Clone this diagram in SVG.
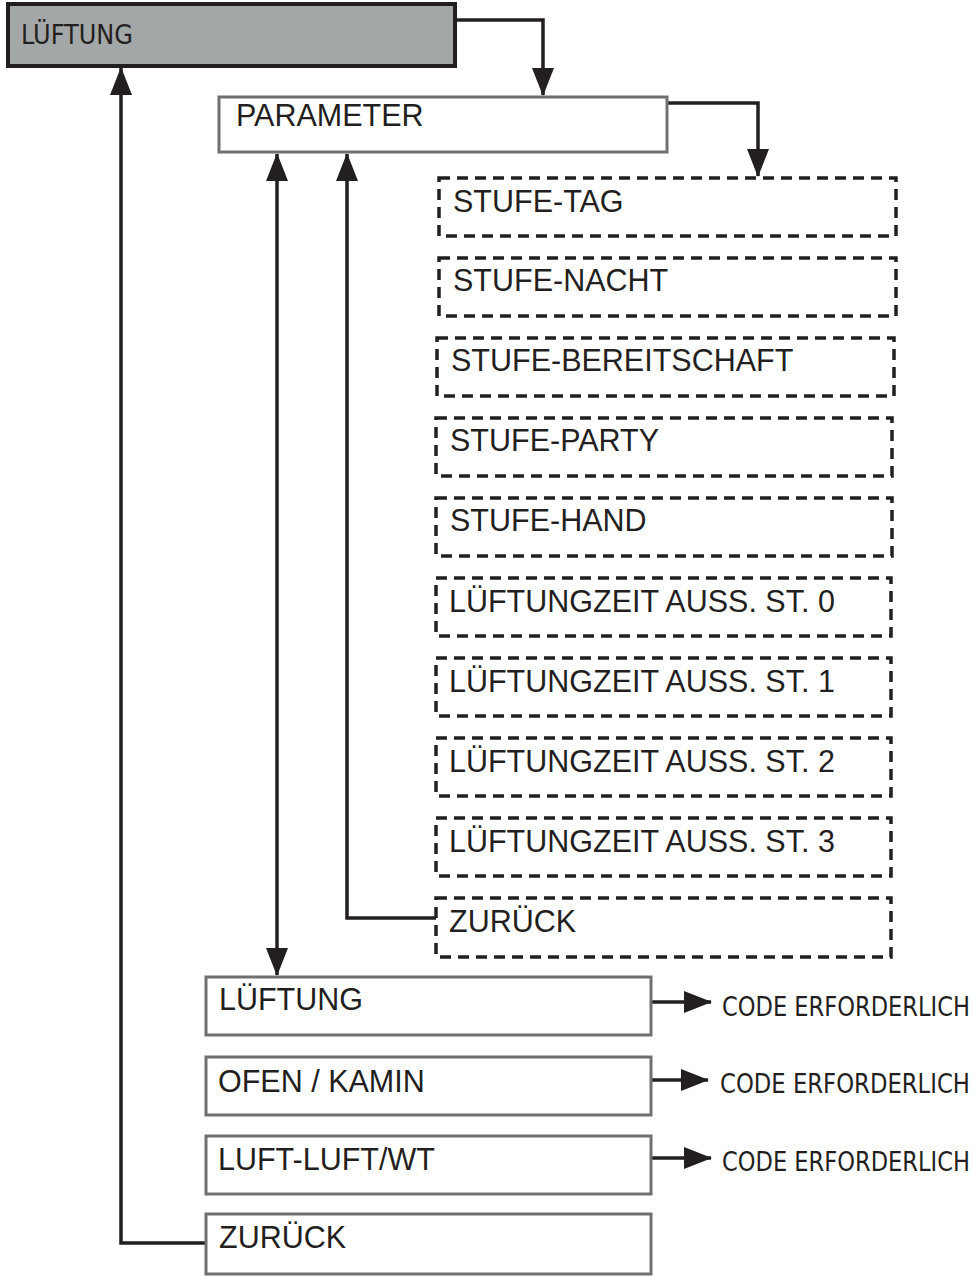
<svg xmlns="http://www.w3.org/2000/svg" width="978" height="1277" viewBox="0 0 978 1277">
<defs>
<style>
.txt{font-family:"Liberation Sans",Arial,sans-serif;font-size:30.5px;fill:#231f20}
.cond{font-family:"DejaVu Sans Condensed","DejaVu Sans",sans-serif;font-size:26px;fill:#231f20}
.solid{fill:#fff;stroke:#707070;stroke-width:3}
.dash{fill:#fff;stroke:#231f20;stroke-width:3.5;stroke-dasharray:11 7}
.con{fill:none;stroke:#231f20;stroke-width:3.5}
</style>
<marker id="ah" markerUnits="userSpaceOnUse" markerWidth="28" markerHeight="22" viewBox="0 0 28 22" refX="27" refY="11" orient="auto-start-reverse">
<path d="M0,0 L28,11 L0,22 z" fill="#231f20"/>
</marker>
</defs>
<rect width="978" height="1277" fill="#fff"/>

<g id="connectors">
<path class="con" d="M455,20 H543 V95" marker-end="url(#ah)"/>
<path class="con" d="M668,103 H758 V176" marker-end="url(#ah)"/>
<path class="con" d="M277,154 V975" marker-start="url(#ah)" marker-end="url(#ah)"/>
<path class="con" d="M436,918 H347 V154" marker-end="url(#ah)"/>
<path class="con" d="M206,1243 H121 V68" marker-end="url(#ah)"/>
<path class="con" d="M652,1002 H711" marker-end="url(#ah)"/>
<path class="con" d="M652,1080 H708" marker-end="url(#ah)"/>
<path class="con" d="M652,1158 H711" marker-end="url(#ah)"/>
</g>

<g id="node-lueftung-top">
<rect x="8" y="4" width="447" height="62" fill="#a4a7a7" stroke="#231f20" stroke-width="4"/>
<text class="cond" x="21" y="44" font-size="27" textLength="112" lengthAdjust="spacingAndGlyphs">LÜFTUNG</text>
</g>
<g id="node-parameter">
<rect class="solid" x="219" y="97" width="448" height="55"/>
<text class="txt" x="236" y="126">PARAMETER</text>
</g>

<g id="node-stufe-tag"><rect class="dash" x="439" y="178" width="457" height="58"/><text class="txt" x="453" y="212">STUFE-TAG</text></g>
<g id="node-stufe-nacht"><rect class="dash" x="439" y="258" width="457" height="58"/><text class="txt" x="453" y="291">STUFE-NACHT</text></g>
<g id="node-stufe-bereitschaft"><rect class="dash" x="437" y="338" width="457" height="58"/><text class="txt" x="451" y="371">STUFE-BEREITSCHAFT</text></g>
<g id="node-stufe-party"><rect class="dash" x="436" y="418" width="456" height="58"/><text class="txt" x="450" y="451">STUFE-PARTY</text></g>
<g id="node-stufe-hand"><rect class="dash" x="436" y="498" width="456" height="58"/><text class="txt" x="450" y="531">STUFE-HAND</text></g>
<g id="node-lzeit-0"><rect class="dash" x="436" y="578" width="455" height="58"/><text class="txt" x="449" y="612">LÜFTUNGZEIT AUSS. ST. 0</text></g>
<g id="node-lzeit-1"><rect class="dash" x="436" y="658" width="455" height="58"/><text class="txt" x="449" y="692">LÜFTUNGZEIT AUSS. ST. 1</text></g>
<g id="node-lzeit-2"><rect class="dash" x="436" y="738" width="455" height="58"/><text class="txt" x="449" y="772">LÜFTUNGZEIT AUSS. ST. 2</text></g>
<g id="node-lzeit-3"><rect class="dash" x="436" y="818" width="455" height="58"/><text class="txt" x="449" y="852">LÜFTUNGZEIT AUSS. ST. 3</text></g>
<g id="node-zurueck-param"><rect class="dash" x="436" y="898" width="455" height="59"/><text class="txt" x="449" y="932">ZURÜCK</text></g>

<g id="node-lueftung"><rect class="solid" x="206" y="977" width="445" height="58"/><text class="txt" x="219" y="1010">LÜFTUNG</text></g>
<g id="node-ofen"><rect class="solid" x="206" y="1057" width="445" height="58"/><text class="txt" x="218" y="1092">OFEN / KAMIN</text></g>
<g id="node-luft"><rect class="solid" x="206" y="1136" width="445" height="58"/><text class="txt" x="218" y="1170">LUFT-LUFT/WT</text></g>
<g id="node-zurueck"><rect class="solid" x="206" y="1214" width="445" height="60"/><text class="txt" x="219" y="1248">ZURÜCK</text></g>

<g id="labels">
<text class="cond" x="722" y="1016" textLength="248" lengthAdjust="spacingAndGlyphs">CODE ERFORDERLICH</text>
<text class="cond" x="720" y="1093" textLength="250" lengthAdjust="spacingAndGlyphs">CODE ERFORDERLICH</text>
<text class="cond" x="722" y="1171" textLength="248" lengthAdjust="spacingAndGlyphs">CODE ERFORDERLICH</text>
</g>
</svg>
